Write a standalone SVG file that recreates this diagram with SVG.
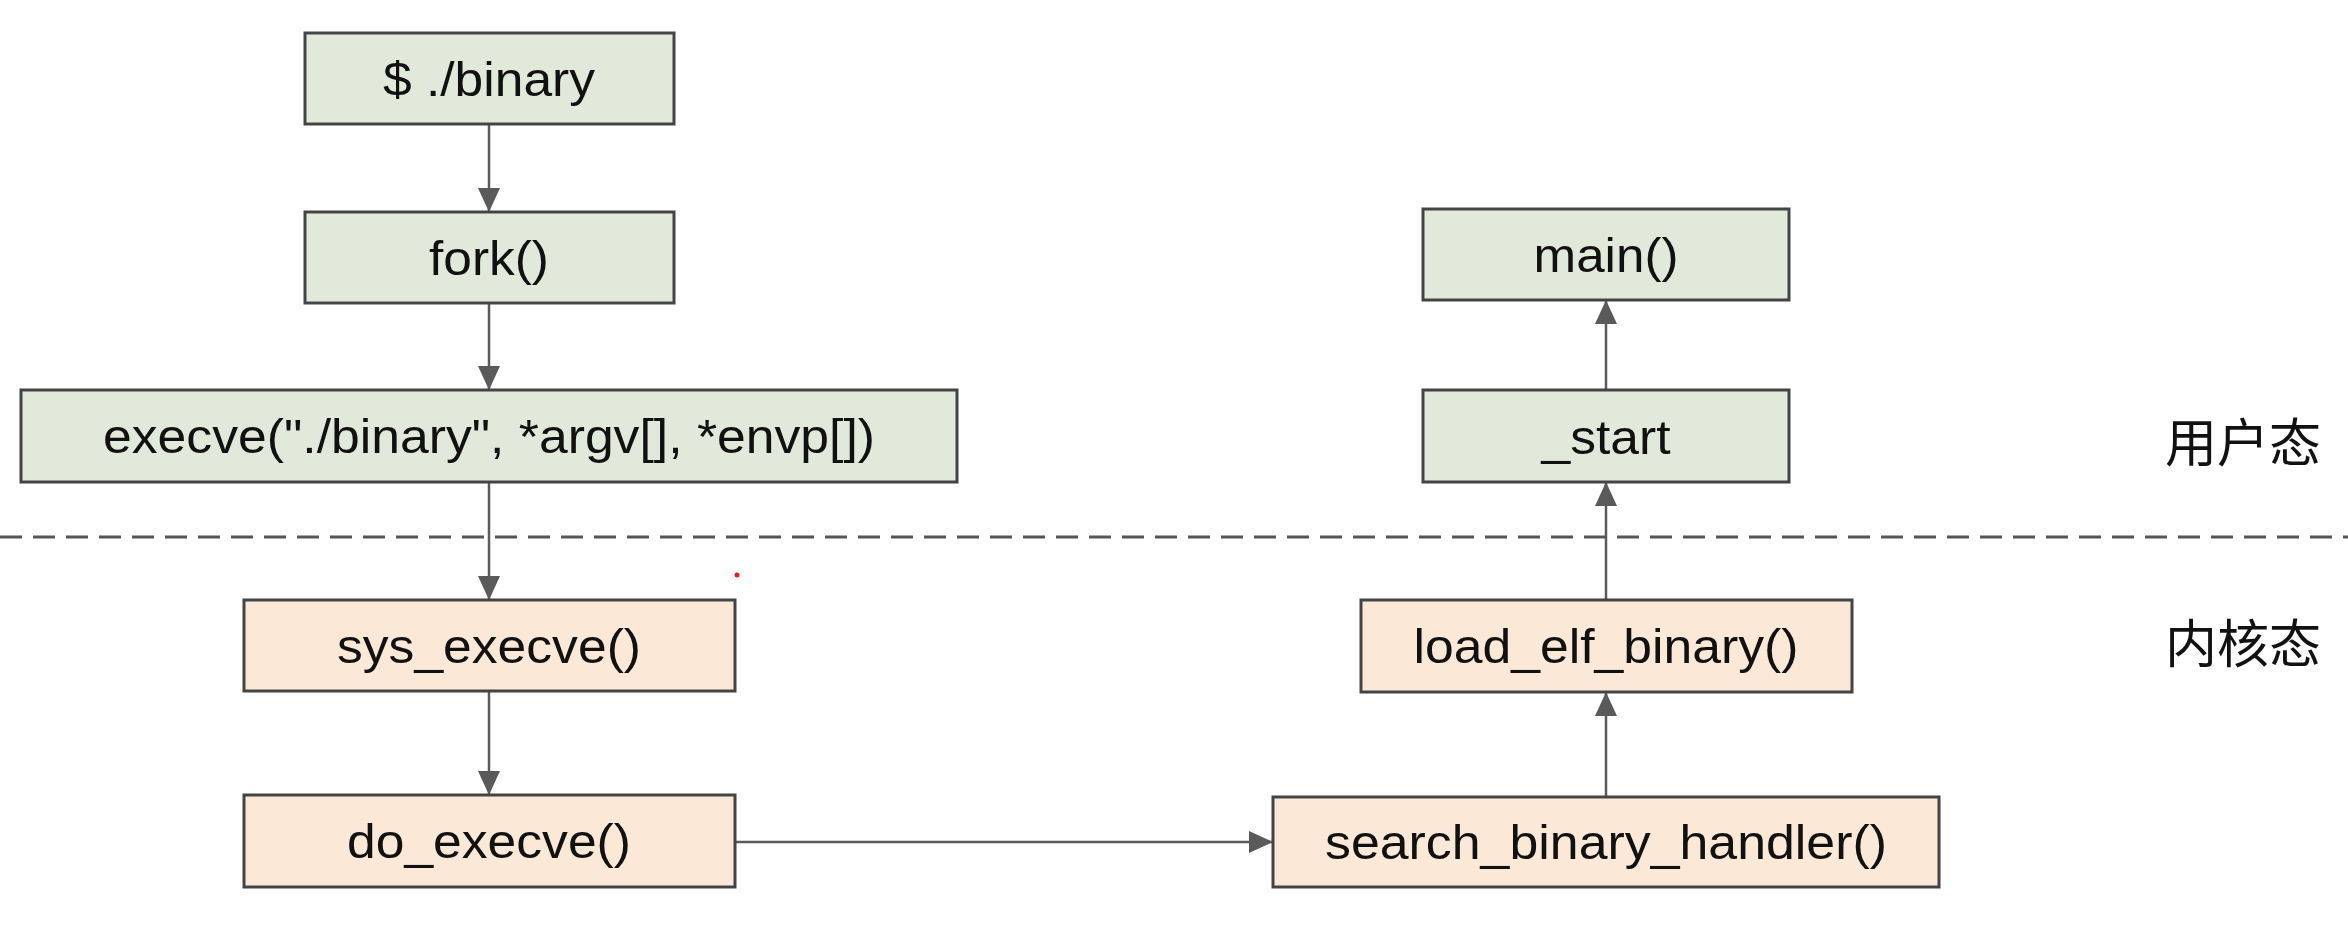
<svg xmlns="http://www.w3.org/2000/svg" width="2348" height="932" viewBox="0 0 2348 932">
<defs>
<style>
.g{fill:#e0e9da;stroke:#444;stroke-width:3}
.o{fill:#fbe8d7;stroke:#444;stroke-width:3}
.t{font-family:"Liberation Sans",Arial,sans-serif;font-size:49px;fill:#111;text-anchor:middle}
.c{font-family:"Noto Sans CJK SC","Noto Sans",sans-serif;font-size:52px;fill:#111;text-anchor:middle;dominant-baseline:central}
.e{stroke:#5a5a5a;stroke-width:2.5;fill:none;marker-end:url(#ah)}
</style>
<marker id="ah" markerUnits="userSpaceOnUse" markerWidth="24" markerHeight="22" refX="24" refY="11" orient="auto">
<path d="M0,0 L24,11 L0,22 Z" fill="#5a5a5a"/>
</marker>
</defs>
<rect width="2348" height="932" fill="#fff"/>
<line x1="0" y1="537" x2="2348" y2="537" stroke="#555" stroke-width="3" stroke-dasharray="22 11"/>
<g id="connectors">
<line class="e" x1="489" y1="124" x2="489" y2="212"/>
<line class="e" x1="489" y1="303" x2="489" y2="390"/>
<line class="e" x1="489" y1="482" x2="489" y2="600"/>
<line class="e" x1="489" y1="691" x2="489" y2="795"/>
<line class="e" x1="735" y1="842" x2="1273" y2="842"/>
<line class="e" x1="1606" y1="797" x2="1606" y2="692"/>
<line class="e" x1="1606" y1="600" x2="1606" y2="482"/>
<line class="e" x1="1606" y1="390" x2="1606" y2="300"/>
</g>
<g id="n_binary"><rect class="g" x="305" y="33" width="369" height="91"/><text class="t" x="489" y="96" textLength="212" lengthAdjust="spacingAndGlyphs">$ ./binary</text></g>
<g id="n_fork"><rect class="g" x="305" y="212" width="369" height="91"/><text class="t" x="489" y="275" textLength="120" lengthAdjust="spacingAndGlyphs">fork()</text></g>
<g id="n_execve"><rect class="g" x="21" y="390" width="936" height="92"/><text class="t" x="489" y="453" textLength="772" lengthAdjust="spacingAndGlyphs">execve("./binary", *argv[], *envp[])</text></g>
<g id="n_sys_execve"><rect class="o" x="244" y="600" width="491" height="91"/><text class="t" x="489" y="663" textLength="304" lengthAdjust="spacingAndGlyphs">sys_execve()</text></g>
<g id="n_do_execve"><rect class="o" x="244" y="795" width="491" height="92"/><text class="t" x="489" y="858" textLength="284" lengthAdjust="spacingAndGlyphs">do_execve()</text></g>
<g id="n_search"><rect class="o" x="1273" y="797" width="666" height="90"/><text class="t" x="1606" y="859" textLength="562" lengthAdjust="spacingAndGlyphs">search_binary_handler()</text></g>
<g id="n_load"><rect class="o" x="1361" y="600" width="491" height="92"/><text class="t" x="1606" y="663" textLength="385" lengthAdjust="spacingAndGlyphs">load_elf_binary()</text></g>
<g id="n_start"><rect class="g" x="1423" y="390" width="366" height="92"/><text class="t" x="1606" y="454" textLength="129" lengthAdjust="spacingAndGlyphs">_start</text></g>
<g id="n_main"><rect class="g" x="1423" y="209" width="366" height="91"/><text class="t" x="1606" y="272" textLength="145" lengthAdjust="spacingAndGlyphs">main()</text></g>
<g id="l_user"><text class="c" x="2243" y="439">用户态</text></g>
<g id="l_kernel"><text class="c" x="2243" y="640">内核态</text></g>
<circle cx="737" cy="575" r="2.5" fill="#d22"/>
</svg>
